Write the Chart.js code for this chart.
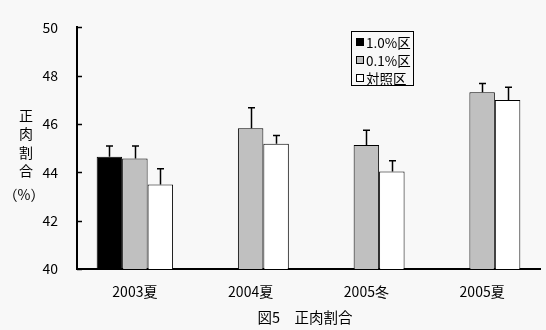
<!DOCTYPE html>
<html>
<head>
<meta charset="utf-8">
<script src="https://cdn.jsdelivr.net/npm/chart.js@4/dist/chart.umd.min.js"></script>
<style>
  html, body { margin: 0; padding: 0; background: #f8f8f8; }
  #wrap { width: 546px; height: 330px; position: relative; }
</style>
</head>
<body>
<div id="wrap"><canvas id="c" width="546" height="330"></canvas></div>
<script>
const categories = ['2003夏', '2004夏', '2005冬', '2005夏'];
const seriesLabels = ['1.0%区', '0.1%区', '対照区'];
const values10 = [44.65, null, null, null];
const values01 = [44.57, 45.83, 45.13, 47.32];
const valuesCtl = [43.50, 45.18, 44.04, 47.00];
const err10 = [0.44, null, null, null];
const err01 = [0.52, 0.84, 0.61, 0.36];
const errCtl = [0.65, 0.35, 0.44, 0.52];
const yTicks = [40, 42, 44, 46, 48, 50];
const chartTitle = '図5　正肉割合';
const yTitleChars = ['正', '肉', '割', '合'];
const yTitleUnit = '（%）';

const FONT = '"Noto Sans CJK JP", "Noto Sans", sans-serif';
const fills = ['#000000', '#c0c0c0', '#ffffff'];
const errs = [err10, err01, errCtl];

const extras = {
  id: 'extras',
  afterDatasetsDraw(chart) {
    const ctx = chart.ctx;
    const y = chart.scales.y;
    ctx.save();
    ctx.strokeStyle = '#000';
    ctx.lineWidth = 1.5;
    chart.data.datasets.forEach((ds, di) => {
      const meta = chart.getDatasetMeta(di);
      meta.data.forEach((bar, i) => {
        const v = ds.data[i];
        const e = errs[di][i];
        if (v == null || e == null) return;
        const x = Math.round(bar.x) + 0.5;
        const yTop = y.getPixelForValue(v);
        const yErr = y.getPixelForValue(v + e);
        ctx.beginPath();
        ctx.moveTo(x, yTop);
        ctx.lineTo(x, yErr);
        ctx.moveTo(x - 3.5, yErr);
        ctx.lineTo(x + 3.5, yErr);
        ctx.stroke();
      });
    });
    ctx.restore();
  },
  afterDraw(chart) {
    const ctx = chart.ctx;
    const y = chart.scales.y;
    const area = chart.chartArea;
    ctx.save();
    // inward y ticks
    ctx.strokeStyle = '#000';
    ctx.lineWidth = 1.5;
    yTicks.forEach(t => {
      const py = Math.round(y.getPixelForValue(t)) + 0.5;
      ctx.beginPath();
      ctx.moveTo(area.left, py);
      ctx.lineTo(area.left + 5, py);
      ctx.stroke();
    });
    // y title
    ctx.fillStyle = '#000';
    ctx.font = '14px ' + FONT;
    ctx.textAlign = 'center';
    ctx.textBaseline = 'middle';
    const ys = [116, 134, 153, 171];
    yTitleChars.forEach((ch, i) => ctx.fillText(ch, 26, ys[i]));
    ctx.fillText(yTitleUnit, 24, 195);
    // chart title
    ctx.font = '14.5px ' + FONT;
    ctx.fillText(chartTitle, 305, 317);
    // legend
    ctx.lineWidth = 1;
    ctx.strokeRect(351.5, 31.5, 62, 54);
    ctx.textAlign = 'left';
    ctx.font = '13.5px ' + FONT;
    const rows = [42, 60, 78];
    chart.data.datasets.forEach((ds, i) => {
      ctx.fillStyle = ds.backgroundColor;
      ctx.fillRect(356, rows[i] - 4, 8, 8);
      ctx.strokeStyle = '#000';
      ctx.strokeRect(356.5, rows[i] - 3.5, 7, 7);
      ctx.fillStyle = '#000';
      ctx.fillText(ds.label, 366, rows[i] + 1);
    });
    ctx.restore();
  }
};

new Chart(document.getElementById('c'), {
  type: 'bar',
  data: {
    labels: categories,
    datasets: [
      { label: seriesLabels[0], data: values10, backgroundColor: fills[0], borderColor: '#000', borderWidth: 1 },
      { label: seriesLabels[1], data: values01, backgroundColor: fills[1], borderColor: '#000', borderWidth: 1 },
      { label: seriesLabels[2], data: valuesCtl, backgroundColor: fills[2], borderColor: '#000', borderWidth: 1 }
    ]
  },
  options: {
    responsive: false,
    animation: false,
    layout: { padding: { top: 22, right: 6, left: 0, bottom: 0 } },
    datasets: { bar: { categoryPercentage: 0.66, barPercentage: 1.0, borderSkipped: 'start' } },
    plugins: {
      legend: { display: false },
      title: { display: false },
      tooltip: { enabled: false }
    },
    scales: {
      x: {
        grid: { display: false, drawTicks: false },
        border: { display: true, color: '#000', width: 2 },
        ticks: { color: '#000', font: { family: FONT, size: 14 }, padding: 14, maxRotation: 0 },
        afterFit(s) { s.height = 61; }
      },
      y: {
        min: 40, max: 50,
        grid: { display: false, drawTicks: false },
        border: { display: true, color: '#000', width: 2 },
        ticks: { stepSize: 2, color: '#000', font: { family: FONT, size: 14 }, padding: 19 },
        afterFit(s) { s.width = 77; }
      }
    }
  },
  plugins: [extras]
});
</script>
</body>
</html>
